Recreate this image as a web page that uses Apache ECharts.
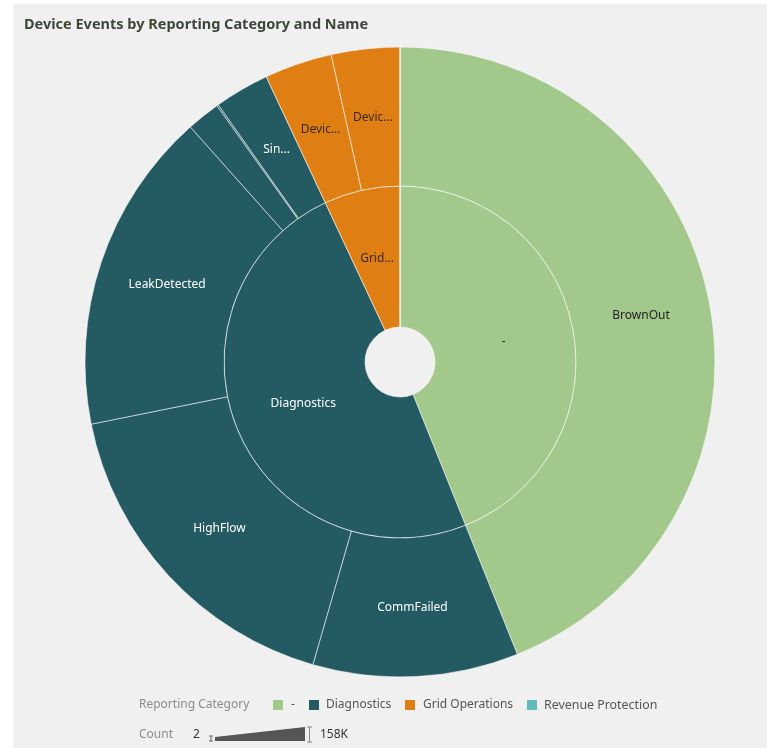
<!DOCTYPE html>
<html><head><meta charset="utf-8">
<script src="https://cdn.jsdelivr.net/npm/echarts@6/dist/echarts.min.js"></script>
<style>
html,body{margin:0;padding:0;background:#fff;}
#panel{position:absolute;left:13px;top:4px;width:754px;height:744px;background:#f0f0f0;}
#chart{position:absolute;left:0;top:0;width:767px;height:748px;}
</style></head><body><div id="panel"></div><div id="chart"></div>
<script>
const categories = ['-', 'Diagnostics', 'Grid Operations', 'Revenue Protection'];
const eventNames = [
  ['BrownOut'],
  ['CommFailed', 'HighFlow', 'LeakDetected', 'LowPressure', 'ReverseFlow', 'SinglePhaseLoss'],
  ['DeviceOffline', 'DeviceOnline'],
  ['Tamper']
];
const eventCounts = [
  [158000],
  [37900, 62500, 59600, 6200, 300, 10100],
  [12500, 12600],
  [2]
];
const shortLabels = {
  'Grid Operations': 'Grid...',
  'SinglePhaseLoss': 'Sin...',
  'DeviceOffline': 'Devic...',
  'DeviceOnline': 'Devic...'
};
const countLegendMin = '2';
const countLegendMax = '158K';

const categoryColors = ['#a2c98b', '#245b63', '#df7f13', '#5fbcb8'];
const labelColors = ['#222', '#fff', '#3a2a10', '#222'];
const FONT = 'Noto Sans';

const data = categories.map((c, i) => ({
  name: c,
  itemStyle: { color: categoryColors[i] },
  label: { color: labelColors[i] },
  children: eventNames[i].map((n, j) => ({
    name: n,
    value: eventCounts[i][j],
    itemStyle: { color: categoryColors[i] },
    label: { color: labelColors[i] }
  }))
}));

const chart = echarts.init(document.getElementById('chart'), null, { renderer: 'canvas' });

const legendY = 705, countY = 735;
const txt = (text, x, y, fill, size) => ({
  type: 'text', x: x, y: y,
  style: { text: text, fill: fill, font: (size || 12) + 'px "' + FONT + '"', verticalAlign: 'middle' }
});
const sq = (x, color) => ({ type: 'rect', shape: { x: x, y: legendY - 5, width: 10, height: 10 }, style: { fill: color } });

chart.setOption({
  backgroundColor: 'transparent',
  title: {
    text: 'Device Events by Reporting Category and Name',
    left: 19, top: 12,
    textStyle: { fontFamily: FONT, fontSize: 14.5, fontWeight: 'bold', color: '#3b4838' }
  },
  series: [{
    type: 'sunburst',
    center: [400, 362],
    radius: [35, 315],
    sort: null,
    startAngle: 90,
    nodeClick: false,
    emphasis: { disabled: true },
    itemStyle: { borderColor: 'rgba(255,255,255,0.55)', borderWidth: 1 },
    label: {
      rotate: 0, fontFamily: FONT, fontSize: 12, minAngle: 8,
      formatter: p => shortLabels[p.name] || p.name
    },
    levels: [
      {},
      { r0: 35, r: 176 },
      { r0: 176, r: 315 }
    ],
    data: data
  }],
  graphic: [
    txt('Reporting Category', 139, legendY, '#8c8c8c'),
    sq(273, categoryColors[0]), txt(categories[0], 291, legendY, '#555'),
    sq(309, categoryColors[1]), txt(categories[1], 326, legendY, '#555'),
    sq(405, categoryColors[2]), txt(categories[2], 423, legendY, '#555'),
    sq(527, categoryColors[3]), txt(categories[3], 544, legendY, '#555', 12.4),
    txt('Count', 139, countY, '#8c8c8c'),
    txt(countLegendMin, 193, countY, '#333'),
    { type: 'polyline', shape: { points: [[209, 736], [213, 736]] }, style: { stroke: '#666', lineWidth: 1 } },
    { type: 'polyline', shape: { points: [[209, 741], [213, 741]] }, style: { stroke: '#666', lineWidth: 1 } },
    { type: 'polyline', shape: { points: [[211, 736], [211, 741]] }, style: { stroke: '#666', lineWidth: 1 } },
    { type: 'polygon', shape: { points: [[215, 737], [305, 727], [305, 741], [215, 741]] }, style: { fill: '#555' } },
    { type: 'polyline', shape: { points: [[307, 727], [312, 727]] }, style: { stroke: '#888', lineWidth: 1 } },
    { type: 'polyline', shape: { points: [[307, 742], [312, 742]] }, style: { stroke: '#888', lineWidth: 1 } },
    { type: 'polyline', shape: { points: [[309.5, 727], [309.5, 742]] }, style: { stroke: '#888', lineWidth: 1 } },
    txt(countLegendMax, 320, countY, '#333')
  ]
});
</script>
</body></html>
